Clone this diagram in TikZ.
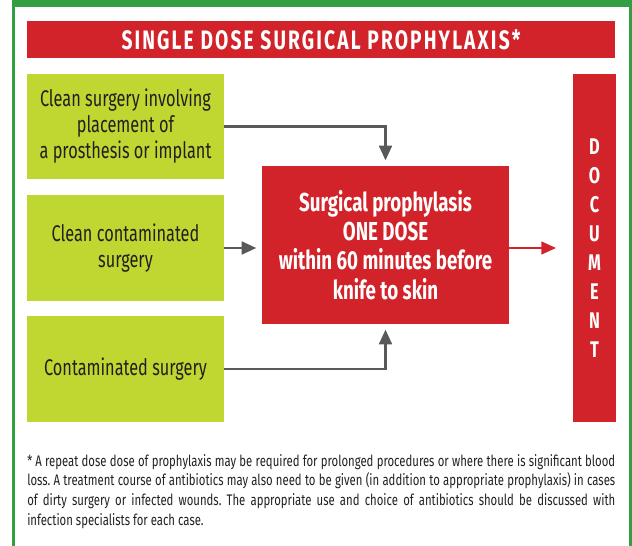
\documentclass[tikz,border=0pt]{standalone}
\usepackage{fontspec}
\setmainfont{Fira Sans}[FakeStretch=0.72]
\newfontfamily\notefont{Fira Sans}[FakeStretch=0.74]
\usepackage{xcolor}
\usepackage{tikz}
\usetikzlibrary{arrows.meta,positioning}

\definecolor{frameGreen}{HTML}{339E42}
\definecolor{boxRed}{HTML}{D2232A}
\definecolor{boxLime}{HTML}{BFD730}
\definecolor{arrowGray}{HTML}{58595B}
\definecolor{textDark}{HTML}{231F20}

\begin{document}
\begin{tikzpicture}[
  x=0.75pt, y=-0.75pt,
  >=Triangle,
  catbox/.style={fill=boxLime, text=textDark, inner sep=0pt,
    minimum width=147.75pt, minimum height=79pt, align=center,
    font=\fontsize{17}{19.5}\selectfont},
  dosebox/.style={fill=boxRed, text=white, inner sep=0pt,
    minimum width=185.25pt, minimum height=118.5pt, align=center,
    font=\fontsize{19.5}{22}\selectfont\bfseries},
  titlebar/.style={fill=boxRed, text=white, inner sep=0pt,
    minimum width=441pt, minimum height=27.75pt,
    font=\fontsize{20}{22}\selectfont\bfseries\addfontfeatures{LetterSpace=8}},
  docbar/.style={fill=boxRed, text=white, inner sep=0pt,
    minimum width=32.25pt, minimum height=261pt, align=center,
    font=\fontsize{17}{21.8}\selectfont\bfseries},
  flow/.style={arrowGray, line width=2pt, -{Triangle[length=11pt, width=9.5pt]}, shorten >=4pt},
  redflow/.style={boxRed, line width=1.6pt, -{Triangle[length=11pt, width=9.5pt]}, shorten >=12.5pt},
]
\useasboundingbox (0,0) rectangle (632,546);

% Frame
\fill[frameGreen] (12,0) rectangle (632,7);
\fill[frameGreen] (12,0) rectangle (15,546);
\fill[frameGreen] (629,0) rectangle (632,546);

% Title
\node[titlebar] (title) at (321,39.5) {SINGLE DOSE SURGICAL PROPHYLAXIS*};

% Types of surgery
\node[catbox] (clean) at (125.5,126.5) {Clean surgery involving\\placement of\\a prosthesis or implant};
\node[catbox] (cleancont) at (125.5,248) {Clean contaminated\\surgery};
\node[catbox] (cont) at (125.5,369) {Contaminated surgery};

% Prophylaxis and document
\node[dosebox] (dose) at (385.5,245) {Surgical prophylasis\\ONE DOSE\\within 60 minutes before\\knife to skin};
\node[docbar] (doc) at (594.5,248) {D\\O\\C\\U\\M\\E\\N\\T};

% Arrows
\draw[flow] (clean.east) -| (dose.north);
\draw[flow] (cleancont.east) -- (cleancont.east -| dose.west);
\draw[flow] (cont.east) -| (dose.south);
\draw[redflow] (dose.east |- doc.west) -- (doc.west);

% Footnote
\node[anchor=base west, text width=441pt, align=justify, inner sep=0pt, text=textDark,
  font=\notefont\fontsize{11.5}{14.8}\selectfont\frenchspacing] (note) at (27,466)
  {\hangindent=6pt\hangafter=1\makebox[6pt][l]{*}A repeat dose dose of prophylaxis may be required for prolonged procedures or where there is significant blood\linebreak
  loss. A treatment course of antibiotics may also need to be given (in addition to appropriate prophylaxis) in cases\linebreak
  of dirty surgery or infected wounds. The appropriate use and choice of antibiotics should be discussed with\linebreak
  infection specialists for each case.};
\end{tikzpicture}
\end{document}
